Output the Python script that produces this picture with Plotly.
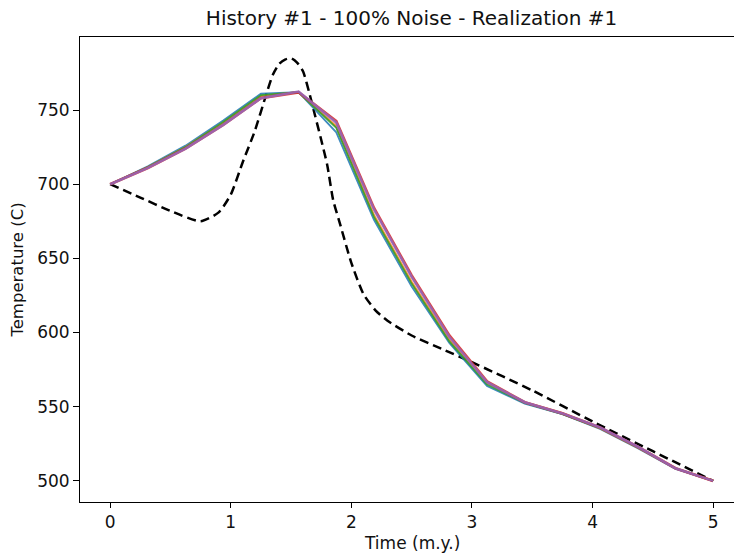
import plotly.graph_objects as go

# True history (dashed)
true_t = [0, 0.25, 0.5, 0.75, 0.9, 1.0, 1.1, 1.2, 1.3, 1.35, 1.4, 1.45, 1.5, 1.55, 1.6,
          1.65, 1.7, 1.75, 1.8, 1.85, 1.9, 2.0, 2.1, 2.2, 2.3, 2.5, 2.75, 3.0, 3.5, 4.0, 4.5, 5.0]
true_T = [700, 691, 682, 675, 681, 693, 715, 736, 762, 774, 781, 784, 785, 782, 776,
          762, 746, 730, 713, 689, 675, 647, 626, 615, 608, 598, 589, 580, 561, 540, 520, 500]

# Inverted histories (realizations)
t_nodes = [0, 0.3125, 0.625, 0.9375, 1.25, 1.5625, 1.875, 2.1875, 2.5, 2.8125,
           3.125, 3.4375, 3.75, 4.0625, 4.375, 4.6875, 5.0]
real_1 = [700, 712, 726, 743, 761, 762, 735, 676, 631, 593, 564, 552, 545, 535, 522, 508, 500]
real_2 = [700, 711.5, 725, 741.5, 759.5, 762, 739, 679, 634, 595, 566, 553, 545.5, 535.5, 522.5, 508.5, 500]
real_3 = [700, 711.5, 725, 742, 760, 762, 738, 678, 633, 594, 565, 552.5, 545, 535.5, 522.5, 508.5, 500]
real_4 = [700, 711, 724, 740, 758, 762, 742.5, 684, 638.5, 598, 567, 553, 545.5, 536, 523, 508.5, 500]
real_5 = [700, 711, 724, 740, 758, 762.5, 741.5, 683, 637.5, 597, 566.5, 553, 545.5, 536, 523, 508.5, 500]

realizations = [real_1, real_2, real_3, real_4, real_5]
colors = ["#1f77b4", "#ff7f0e", "#2ca02c", "#d62728", "#9467bd"]
widths = [1.8, 2.2, 1.8, 2.8, 2.6]

x_ticks = [0, 1, 2, 3, 4, 5]
y_ticks = [500, 550, 600, 650, 700, 750]

fig = go.Figure()
fig.add_trace(go.Scatter(x=true_t, y=true_T, mode="lines",
                         line=dict(color="black", width=2.5, dash="9px,5px", shape="spline", smoothing=0.6),
                         showlegend=False))
for r, c, w in zip(realizations, colors, widths):
    fig.add_trace(go.Scatter(x=t_nodes, y=r, mode="lines",
                             line=dict(color=c, width=w), opacity=0.85, showlegend=False))

font_family = "DejaVu Sans"
fig.update_layout(
    width=734, height=557,
    margin=dict(l=80, r=0, t=37, b=55),
    plot_bgcolor="white", paper_bgcolor="white",
    font=dict(family=font_family, size=17, color="#111111"),
    title=dict(text="History #1 - 100% Noise - Realization #1", xref="paper", x=0.507, xanchor="center",
               yref="container", y=1 - 18 / 557, yanchor="middle", font=dict(size=20, color="#111111")),
    xaxis=dict(range=[-0.25, 5.173], tickvals=x_ticks, ticktext=[str(v) for v in x_ticks],
               showgrid=False, zeroline=False, showline=True, linecolor="black", linewidth=1,
               mirror=True, ticks="outside", ticklen=5, tickcolor="black", tickwidth=1,
               tickfont=dict(size=17)),
    yaxis=dict(range=[485.75, 799.25], tickvals=y_ticks, ticktext=[str(v) for v in y_ticks],
               showgrid=False, zeroline=False, showline=True, linecolor="black", linewidth=1,
               ticks="outside", ticklen=6, tickcolor="black", tickwidth=1,
               tickfont=dict(size=17),
               title=dict(text="Temperature (C)", font=dict(size=16.5), standoff=9)),
    annotations=[dict(text="Time (m.y.)", xref="paper", yref="paper", x=0.507, y=-0.088,
                      xanchor="center", yanchor="middle", showarrow=False, font=dict(size=17))],
)

fig.write_html("out.html")
